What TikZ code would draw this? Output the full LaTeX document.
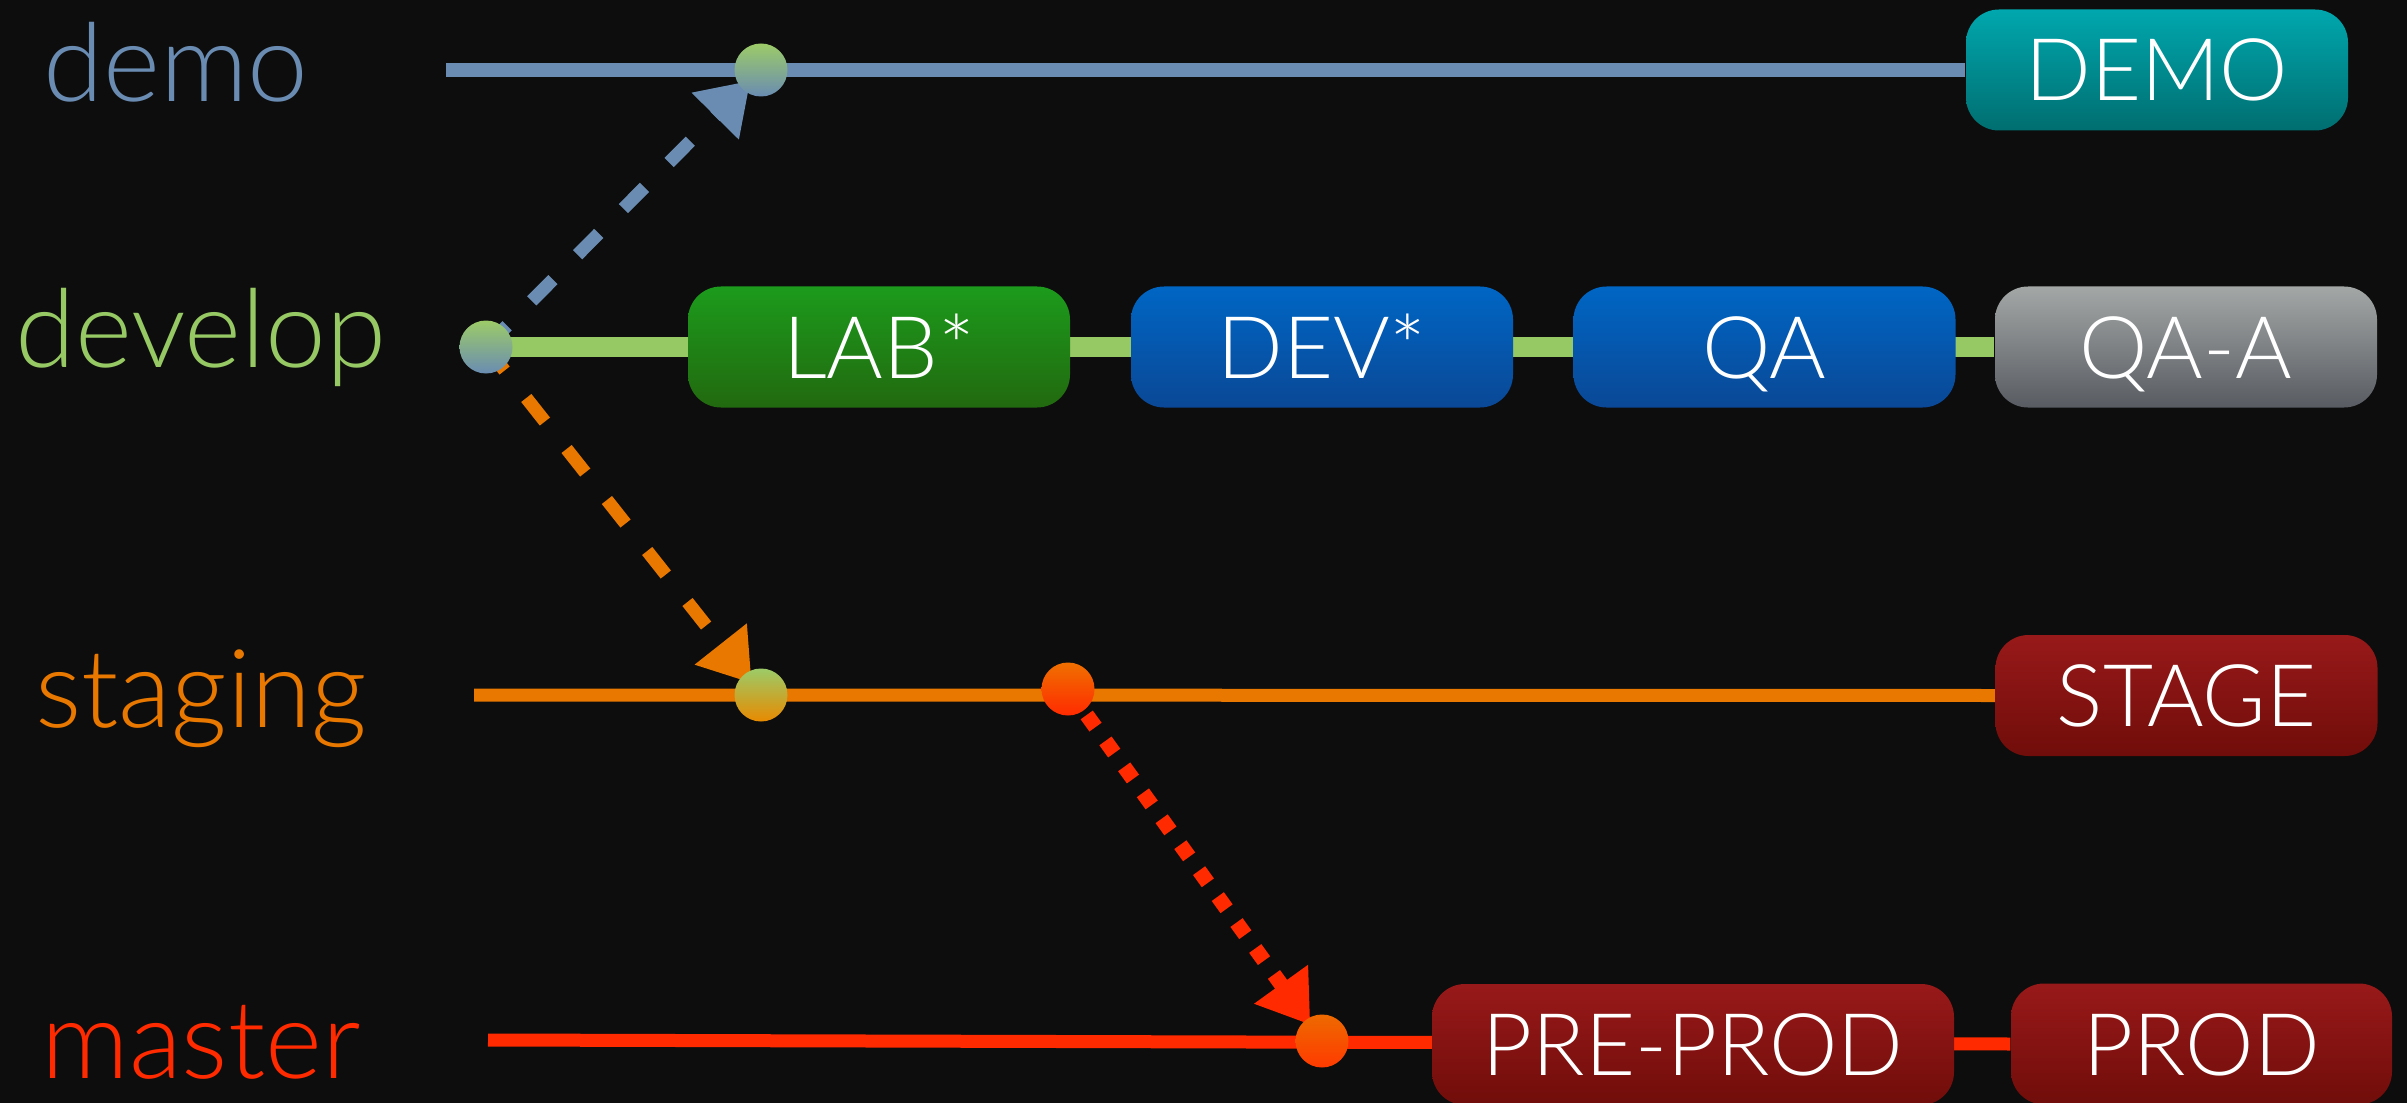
\documentclass[tikz,border=0pt]{standalone}
\usepackage{fontspec}
\IfFontExistsTF{Lato Light}{\setmainfont{Lato Light}}{\setmainfont{Lato}}
\usetikzlibrary{arrows.meta,backgrounds}
\definecolor{bgblack}{HTML}{0D0D0D}
\definecolor{demoblue}{HTML}{6A8CB2}
\definecolor{devgreen}{HTML}{96C864}
\definecolor{stageorange}{HTML}{E87800}
\definecolor{masterred}{HTML}{FF2A00}
\begin{document}
\begin{tikzpicture}[
labelnode/.style={anchor=base, font=\fontsize{31}{31}\selectfont},
envnode/.style={rectangle, rounded corners=3.3mm, minimum width=3.82cm, minimum height=1.21cm, inner sep=0pt, text=white, text height=6.2mm, text depth=0pt, font=\fontsize{24.6}{24.6}\selectfont},
commitnode/.style={circle, minimum size=5.3mm, inner sep=0pt},
mergearrow/.style={line width=1.3mm, dash pattern=on 3mm off 3.5mm, -{Triangle[length=5mm,width=6.3mm]}, shorten >=1.5mm},
]
\useasboundingbox (0,0) rectangle (24.07,-11.03);
%Labels
\node[labelnode, text=demoblue]    (demoLabel)    at (1.76,-1.02)  {demo};
\node[labelnode, text=devgreen]    (devLabel)     at (2.01,-3.68)  {develop};
\node[labelnode, text=stageorange] (stageLabel)   at (2.01,-7.27)  {staging};
\node[labelnode, text=masterred]   (masterLabel)  at (2.01,-10.78) {master};

%Environments
\node[envnode, top color={rgb,255:red,0;green,167;blue,174}, bottom color={rgb,255:red,0;green,110;blue,112}] (demoBox) at (21.57,-0.70) {DEMO};
\node[envnode, top color={rgb,255:red,28;green,155;blue,28}, bottom color={rgb,255:red,34;green,105;blue,15}] (labBox) at (8.79,-3.47) {LAB*};
\node[envnode, top color={rgb,255:red,0;green,102;blue,196}, bottom color={rgb,255:red,10;green,72;blue,150}] (devBox) at (13.22,-3.47) {DEV*};
\node[envnode, top color={rgb,255:red,0;green,102;blue,196}, bottom color={rgb,255:red,10;green,72;blue,150}] (qaBox) at (17.645,-3.47) {QA};
\node[envnode, top color={rgb,255:red,163;green,167;blue,166}, bottom color={rgb,255:red,88;green,92;blue,98}] (qaaBox) at (21.86,-3.47) {QA-A};
\node[envnode, top color={rgb,255:red,152;green,25;blue,25}, bottom color={rgb,255:red,112;green,13;blue,10}] (stageBox) at (21.865,-6.955) {STAGE};
\node[envnode, minimum width=5.22cm, top color={rgb,255:red,152;green,25;blue,25}, bottom color={rgb,255:red,112;green,13;blue,10}] (preprodBox) at (16.93,-10.445) {PRE-PROD};
\node[envnode, minimum width=3.81cm, top color={rgb,255:red,152;green,25;blue,25}, bottom color={rgb,255:red,112;green,13;blue,10}] (prodBox) at (22.015,-10.44) {PROD};

%Commits
\node[commitnode, top color={rgb,255:red,156;green,203;blue,104}, bottom color=demoblue] (demoDot) at (7.61,-0.70) {};
\node[commitnode, top color={rgb,255:red,156;green,203;blue,104}, bottom color=demoblue] (devDot) at (4.86,-3.47) {};
\node[commitnode, top color={rgb,255:red,156;green,203;blue,104}, bottom color={rgb,255:red,232;green,138;blue,0}] (stageDotA) at (7.61,-6.95) {};
\node[commitnode, top color={rgb,255:red,240;green,112;blue,0}, bottom color=masterred] (stageDotB) at (10.68,-6.89) {};
\node[commitnode, top color={rgb,255:red,238;green,106;blue,0}, bottom color={rgb,255:red,255;green,58;blue,0}] (masterDot) at (13.22,-10.41) {};

\coordinate (demoStart)   at (4.46,-0.70);
\coordinate (stageStart)  at (4.74,-6.95);
\coordinate (masterStart) at (4.88,-10.40);

\begin{scope}[on background layer]
\fill[bgblack] (0,0) rectangle (24.07,-11.03);
%Lines
\draw[demoblue, line width=1.4mm]    (demoStart) -- (demoBox.west);
\draw[devgreen, line width=2mm]      (devDot.center) -- (qaaBox.west);
\draw[stageorange, line width=1.3mm] (stageStart) -- (stageBox.west);
\draw[masterred, line width=1.3mm]   (masterStart) -- (prodBox.west);
%Merges
\draw[mergearrow, demoblue]    (devDot.center) -- (demoDot.center);
\draw[mergearrow, stageorange] (devDot.center) -- (stageDotA.center);
\draw[mergearrow, masterred, line width=1.5mm, dash pattern=on 1.5mm off 1.7mm, shorten >=2mm] (stageDotB.center) -- (masterDot.center);
\end{scope}
\end{tikzpicture}
\end{document}
